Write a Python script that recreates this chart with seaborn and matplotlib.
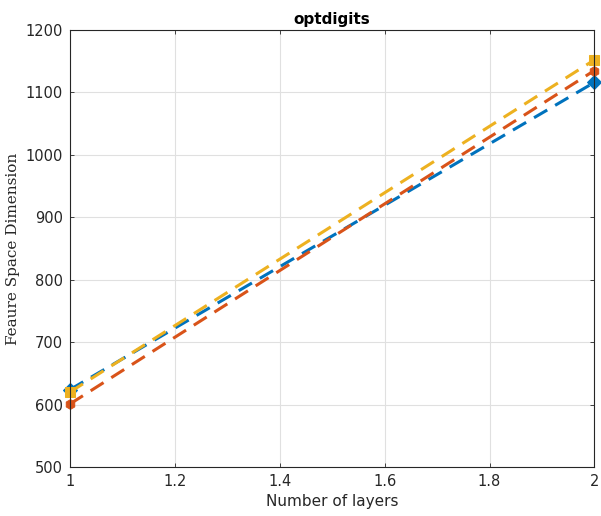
import matplotlib
matplotlib.use("Agg")
import matplotlib.pyplot as plt
import seaborn as sns
import pandas as pd

layers = [1, 2]
series_names = ["A", "B", "C"]
blue_vals = [624, 1116]
orange_vals = [601, 1135]
yellow_vals = [620, 1152]
colors = ["#0072BD", "#D95319", "#EDB120"]
markers = ["D", "h", "s"]

sns.set_theme(style="whitegrid")
plt.rcParams['font.family'] = ['DejaVu Sans']

rows = []
for name, vals in zip(series_names, [blue_vals, orange_vals, yellow_vals]):
    for x, v in zip(layers, vals):
        rows.append({"layers": x, "dim": v, "series": name})
df = pd.DataFrame(rows)

fig = plt.figure(figsize=(6.01, 5.16), dpi=100)
ax = fig.add_axes([0.1165, 0.095, 0.8725, 0.847])
for name, c, m in zip(series_names, colors, markers):
    sub = df[df.series == name]
    sns.lineplot(data=sub, x="layers", y="dim", ax=ax, color=c, linestyle="--",
                 linewidth=2.2, marker=m, markersize=7, markeredgecolor=c, legend=False)
for ln in ax.lines:
    ln.set_clip_on(False)
    ln.set_dashes([5, 3])

ax.set_xlim(1, 2)
ax.set_ylim(500, 1200)
ax.set_xticks([1, 1.2, 1.4, 1.6, 1.8, 2])
ax.set_xticklabels(["1", "1.2", "1.4", "1.6", "1.8", "2"])
ax.set_yticks(range(500, 1201, 100))
ax.set_facecolor("white")
ax.grid(True, color="#e0e0e0", linewidth=0.8)
for s in ax.spines.values():
    s.set_color("#262626")
    s.set_linewidth(0.8)
    s.set_visible(True)
ax.tick_params(direction="in", length=3, width=0.6, color="#262626", labelsize=10.5, labelcolor="#262626",
               top=True, right=True, bottom=True, left=True, pad=5)
ax.set_xlabel("Number of layers", fontsize=11, color="#262626")
ax.set_ylabel("Feaure Space Dimension", fontsize=11, color="#262626", family=["DejaVu Serif"])
ax.set_title("optdigits", fontsize=11, fontweight="bold", color="#000000", pad=4)
fig.savefig("out.png", dpi=100)
